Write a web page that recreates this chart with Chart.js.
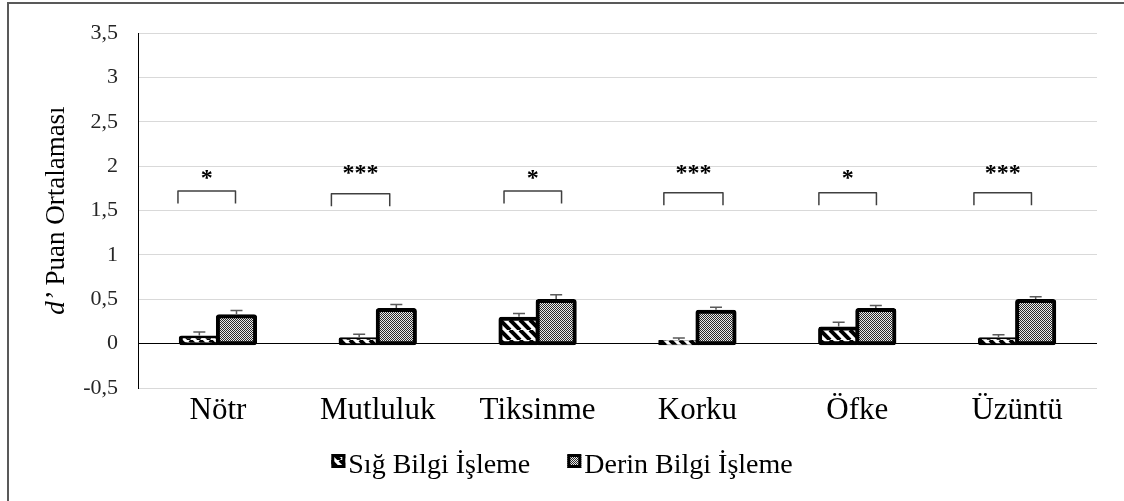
<!DOCTYPE html>
<html lang="tr">
<head>
<meta charset="utf-8">
<script src="https://cdn.jsdelivr.net/npm/chart.js@4"></script>
<style>
  html, body { margin: 0; padding: 0; background: #fff; overflow: hidden; }
  #wrap { position: relative; width: 1124px; height: 501px; }
  #frame { position: absolute; left: 7px; top: 2px; width: 1200px; height: 600px;
           border: 2px solid #595959; box-sizing: border-box; pointer-events: none; }
</style>
</head>
<body>
<div id="wrap">
  <canvas id="chart" width="1124" height="501"></canvas>
  <div id="frame"></div>
</div>
<script>
'use strict';

let categories = ['Nötr', 'Mutluluk', 'Tiksinme', 'Korku', 'Öfke', 'Üzüntü'];
let seriesNames = ['Sığ Bilgi İşleme', 'Derin Bilgi İşleme'];
let sigValues = [0.07, 0.05, 0.28, 0.02, 0.17, 0.05];
let derinValues = [0.31, 0.38, 0.48, 0.36, 0.38, 0.48];
let sigErrors = [0.06, 0.055, 0.06, 0.045, 0.07, 0.05];
let derinErrors = [0.065, 0.06, 0.07, 0.05, 0.05, 0.05];
let yTicks = [-0.5, 0, 0.5, 1, 1.5, 2, 2.5, 3, 3.5];

// significance brackets, x given as offsets from the category centre
let stars = ['*', '***', '*', '***', '*', '***'];
let bracketLeft = [-0.25, -0.29, -0.21, -0.21, -0.24, -0.27];
let bracketRight = [0.11, 0.075, 0.15, 0.16, 0.12, 0.09];
let bracketTop = [1.72, 1.69, 1.72, 1.70, 1.70, 1.70];
let bracketLeg = 0.14;
let starBase = [1.79, 1.85, 1.79, 1.85, 1.79, 1.85];

const SERIF = '"Liberation Serif", "Times New Roman", serif';
let canvasElem = document.getElementById('chart');
let mainCtx = canvasElem.getContext('2d');

function stripePattern() {
  let c = document.createElement('canvas');
  c.width = 10; c.height = 10;
  let g = c.getContext('2d');
  g.fillStyle = '#fff';
  g.fillRect(0, 0, 10, 10);
  g.strokeStyle = '#000';
  g.lineWidth = 4;
  for (let o = -10; o <= 10; o += 10) {
    g.beginPath();
    g.moveTo(o, 0);
    g.lineTo(o + 10, 10);
    g.stroke();
  }
  return mainCtx.createPattern(c, 'repeat');
}

function dotPattern() {
  let c = document.createElement('canvas');
  c.width = 2; c.height = 2;
  let g = c.getContext('2d');
  g.fillStyle = '#eaeaea';
  g.fillRect(0, 0, 2, 2);
  g.fillStyle = '#2a2a2a';
  g.fillRect(0, 0, 1, 1);
  g.fillRect(1, 1, 1, 1);
  return mainCtx.createPattern(c, 'repeat');
}

let fills = [stripePattern(), dotPattern()];
let errorSets = [sigErrors, derinErrors];

const errorBars = {
  id: 'errorBars',
  afterDatasetsDraw(chart) {
    const ctx = chart.ctx, y = chart.scales.y;
    ctx.save();
    ctx.strokeStyle = '#595959';
    ctx.lineWidth = 1.5;
    chart.data.datasets.forEach((ds, d) => {
      chart.getDatasetMeta(d).data.forEach((bar, i) => {
        const base = y.getPixelForValue(ds.data[i]) - 2;
        const top = y.getPixelForValue(ds.data[i] + errorSets[d][i]);
        ctx.beginPath();
        ctx.moveTo(bar.x, base);
        ctx.lineTo(bar.x, top);
        ctx.moveTo(bar.x - 6, top);
        ctx.lineTo(bar.x + 6, top);
        ctx.stroke();
      });
    });
    ctx.restore();
  }
};

const brackets = {
  id: 'brackets',
  afterDraw(chart) {
    const ctx = chart.ctx, x = chart.scales.x, y = chart.scales.y;
    ctx.save();
    ctx.strokeStyle = '#404040';
    ctx.lineWidth = 1.5;
    ctx.lineJoin = 'round';
    ctx.fillStyle = '#000';
    ctx.font = 'bold 24px ' + SERIF;
    ctx.textAlign = 'center';
    ctx.textBaseline = 'alphabetic';
    categories.forEach((c, i) => {
      const xl = x.getPixelForValue(i + bracketLeft[i]);
      const xr = x.getPixelForValue(i + bracketRight[i]);
      const yt = y.getPixelForValue(bracketTop[i]);
      const yb = y.getPixelForValue(bracketTop[i] - bracketLeg);
      ctx.beginPath();
      ctx.moveTo(xl, yb);
      ctx.lineTo(xl, yt);
      ctx.lineTo(xr, yt);
      ctx.lineTo(xr, yb);
      ctx.stroke();
      ctx.fillText(stars[i], (xl + xr) / 2, y.getPixelForValue(starBase[i]));
    });
    ctx.restore();
  }
};

// y title with an italic d'
const yTitle = {
  id: 'yTitle',
  afterDraw(chart) {
    const ctx = chart.ctx, a = chart.chartArea;
    const italic = 'italic 27px ' + SERIF, plain = '27px ' + SERIF;
    const lead = 'd’', rest = ' Puan Ortalaması';
    ctx.save();
    ctx.font = italic;
    const w1 = ctx.measureText(lead).width;
    ctx.font = plain;
    const w2 = ctx.measureText(rest).width;
    ctx.translate(a.left - 81, (a.top + a.bottom) / 2);
    ctx.rotate(-Math.PI / 2);
    ctx.textBaseline = 'middle';
    ctx.textAlign = 'left';
    ctx.fillStyle = '#000';
    const sx = -(w1 + w2) / 2;
    ctx.font = italic;
    ctx.fillText(lead, sx, 0);
    ctx.font = plain;
    ctx.fillText(rest, sx + w1, 0);
    ctx.restore();
  }
};

const legendBoxes = {
  id: 'legendBoxes',
  afterDraw(chart) {
    const ctx = chart.ctx;
    const box = 14, gap = 3, spacing = 37, boxMid = 461, textBase = 473;
    ctx.save();
    ctx.font = '28px ' + SERIF;
    const widths = seriesNames.map(n => ctx.measureText(n).width);
    let total = spacing * (seriesNames.length - 1);
    widths.forEach(w => { total += box + gap + w; });
    let x0 = (chart.width - total) / 2;
    seriesNames.forEach((n, k) => {
      ctx.fillStyle = fills[k];
      ctx.fillRect(x0, boxMid - box / 2, box, box);
      ctx.strokeStyle = '#000';
      ctx.lineWidth = 3;
      ctx.strokeRect(x0 + 1.5, boxMid - box / 2 + 1.5, box - 3, box - 3);
      ctx.fillStyle = '#000';
      ctx.textAlign = 'left';
      ctx.textBaseline = 'alphabetic';
      ctx.fillText(n, x0 + box + gap, textBase);
      x0 += box + gap + widths[k] + spacing;
    });
    ctx.restore();
  }
};

let barStyle = {
  borderColor: '#000',
  borderWidth: 4,
  borderSkipped: false,
  borderRadius: 3,
  inflateAmount: 2
};

new Chart(canvasElem, {
  type: 'bar',
  data: {
    labels: categories,
    datasets: [
      Object.assign({ label: seriesNames[0], data: sigValues, backgroundColor: fills[0] }, barStyle),
      Object.assign({ label: seriesNames[1], data: derinValues, backgroundColor: fills[1] }, barStyle)
    ]
  },
  options: {
    responsive: false,
    animation: false,
    categoryPercentage: 0.465,
    barPercentage: 1,
    layout: { padding: { top: 33, right: 27, bottom: 53, left: 0 } },
    plugins: {
      legend: { display: false },
      tooltip: { enabled: false }
    },
    scales: {
      x: {
        grid: { display: false },
        border: { display: false },
        ticks: { color: '#000', font: { family: SERIF, size: 31 }, padding: -4 },
        afterFit: s => { s.height = 60; }
      },
      y: {
        min: -0.5,
        max: 3.5,
        afterBuildTicks: s => { s.ticks = yTicks.map(v => ({ value: v })); },
        afterFit: s => { s.width = 138; },
        grid: {
          drawTicks: false,
          color: ctx => (ctx.tick && ctx.tick.value === 0 ? '#000' : '#d9d9d9'),
          lineWidth: 1
        },
        border: { display: true, color: '#000', width: 1 },
        ticks: {
          color: '#262626',
          padding: 20,
          font: { family: SERIF, size: 22 },
          callback: v => String(v).replace('.', ',')
        }
      }
    }
  },
  plugins: [errorBars, brackets, yTitle, legendBoxes]
});
</script>
</body>
</html>
